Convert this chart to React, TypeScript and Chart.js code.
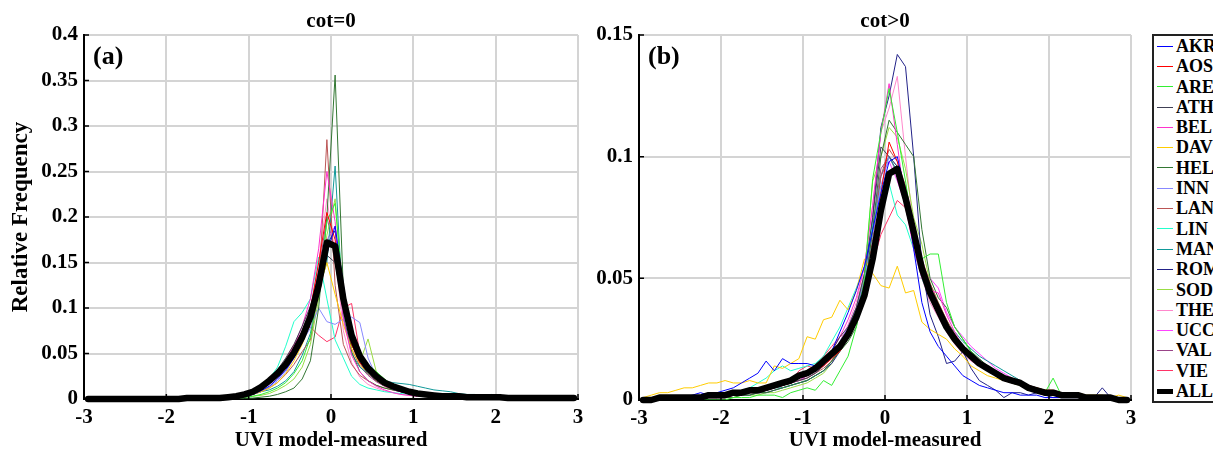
import React, { useEffect, useRef } from 'react';
import { Chart, registerables } from 'chart.js';

Chart.register(...registerables);

const FONT = '"Liberation Serif", "Times New Roman", serif';

// Bin centres of UVI (model - measured)
const xCenters = [
  -2.95, -2.85, -2.75, -2.65, -2.55, -2.45, -2.35, -2.25, -2.15, -2.05,
  -1.95, -1.85, -1.75, -1.65, -1.55, -1.45, -1.35, -1.25, -1.15, -1.05,
  -0.95, -0.85, -0.75, -0.65, -0.55, -0.45, -0.35, -0.25, -0.15, -0.05,
  0.05, 0.15, 0.25, 0.35, 0.45, 0.55, 0.65, 0.75, 0.85, 0.95,
  1.05, 1.15, 1.25, 1.35, 1.45, 1.55, 1.65, 1.75, 1.85, 1.95,
  2.05, 2.15, 2.25, 2.35, 2.45, 2.55, 2.65, 2.75, 2.85, 2.95,
];

const xTicks = [-3, -2, -1, 0, 1, 2, 3];
const yTicksA = [0, 0.05, 0.1, 0.15, 0.2, 0.25, 0.3, 0.35, 0.4];
const yTicksB = [0, 0.05, 0.1, 0.15];

const stations = ['AKR', 'AOS', 'ARE', 'ATH', 'BEL', 'DAV', 'HEL', 'INN', 'LAN', 'LIN', 'MAN', 'ROM', 'SOD', 'THE', 'UCC', 'VAL', 'VIE'];

// ---------------- Panel (a): cot = 0 ----------------
const aALL = [
  0, 0, 0, 0, 0, 0, 0, 0, 0, 0,
  0, 0, .001, .001, .001, .001, .001, .002, .003, .005,
  .008, .013, .020, .028, .038, .051, .068, .090, .125, .172,
  .168, .110, .070, .047, .034, .025, .018, .014, .011, .008,
  .006, .005, .004, .003, .003, .003, .002, .002, .002, .002,
  .002, .001, .001, .001, .001, .001, .001, .001, .001, .001,
];
const aAKR = [
  0, 0, 0, 0, 0, 0, 0, 0, 0, 0,
  0, 0, 0, 0, 0, 0, .001, .001, .002, .003,
  .005, .009, .014, .022, .032, .045, .062, .085, .125, .160,
  .190, .125, .070, .042, .030, .022, .016, .011, .008, .006,
  .005, .004, .004, .003, .002, .002, .003, .002, .002, .001,
  .002, .001, .001, .002, .001, .001, .001, .002, .001, .001,
];
const aAOS = [
  0, 0, 0, 0, 0, 0, 0, 0, 0, 0,
  0, 0, 0, 0, .001, 0, .001, .002, .003, .004,
  .007, .012, .019, .028, .040, .055, .072, .098, .150, .205,
  .175, .100, .060, .040, .030, .022, .016, .011, .008, .006,
  .005, .004, .003, .003, .002, .002, .002, .002, .001, .002,
  .001, .001, .001, .001, .001, .002, .001, .001, .001, .001,
];
const aARE = [
  0, 0, 0, 0, 0, 0, 0, 0, 0, 0,
  0, 0, 0, 0, 0, 0, 0, .001, .001, .002,
  .003, .005, .008, .012, .018, .028, .042, .068, .120, .195,
  .215, .115, .068, .048, .038, .030, .022, .015, .011, .008,
  .006, .005, .004, .003, .003, .002, .002, .002, .003, .002,
  .002, .001, .002, .001, .001, .001, .002, .001, .001, .001,
];
const aATH = [
  0, 0, 0, 0, 0, 0, 0, 0, 0, 0,
  0, 0, 0, .001, .001, .001, .001, .002, .003, .005,
  .008, .014, .022, .032, .045, .060, .080, .102, .130, .158,
  .150, .098, .060, .040, .028, .020, .015, .012, .009, .007,
  .005, .004, .003, .003, .002, .002, .002, .001, .002, .001,
  .001, .001, .001, .001, .001, .001, .001, .001, .001, .001,
];
const aBEL = [
  0, 0, 0, 0, 0, 0, 0, 0, 0, 0,
  0, 0, 0, 0, .001, 0, .001, .002, .003, .005,
  .008, .012, .020, .030, .042, .058, .080, .110, .165, .250,
  .195, .088, .048, .030, .020, .014, .010, .007, .005, .004,
  .003, .003, .002, .002, .002, .001, .001, .001, .002, .001,
  .001, .001, .001, .001, .001, .001, .001, .001, .001, .001,
];
const aDAV = [
  0, 0, 0, 0, 0, 0, 0, 0, 0, 0,
  0, 0, 0, 0, 0, 0, .001, .001, .002, .003,
  .005, .008, .012, .018, .028, .042, .060, .085, .120, .150,
  .115, .082, .055, .038, .028, .020, .015, .012, .009, .007,
  .006, .005, .004, .003, .003, .003, .002, .003, .002, .002,
  .002, .002, .001, .002, .001, .002, .001, .001, .002, .001,
];
const aHEL = [
  0, 0, 0, 0, 0, 0, 0, 0, 0, 0,
  0, 0, 0, 0, 0, 0, 0, 0, 0, .001,
  .001, .002, .003, .005, .008, .012, .022, .042, .100, .200,
  .356, .120, .052, .030, .020, .015, .012, .010, .008, .006,
  .005, .004, .003, .003, .002, .002, .002, .001, .001, .001,
  .001, .001, .001, .001, .001, .001, .001, .001, .001, .001,
];
const aINN = [
  0, 0, 0, 0, 0, 0, 0, 0, 0, 0,
  0, 0, 0, 0, 0, 0, .001, .001, .002, .003,
  .005, .008, .013, .020, .030, .045, .063, .078, .100, .085,
  .082, .088, .090, .084, .045, .025, .016, .011, .008, .006,
  .005, .004, .003, .003, .002, .002, .002, .001, .002, .001,
  .001, .001, .001, .001, .001, .001, .001, .001, .001, .001,
];
const aLAN = [
  0, 0, 0, 0, 0, 0, 0, 0, 0, 0,
  0, 0, 0, 0, 0, 0, .001, .001, .002, .003,
  .005, .008, .012, .018, .027, .038, .052, .065, .120, .285,
  .125, .060, .038, .026, .020, .015, .012, .010, .008, .006,
  .005, .004, .003, .003, .002, .002, .002, .002, .001, .001,
  .001, .001, .001, .001, .001, .001, .001, .001, .001, .001,
];
const aLIN = [
  0, 0, 0, 0, 0, 0, 0, 0, 0, 0,
  0, 0, 0, 0, .001, .001, .002, .003, .005, .007,
  .010, .014, .022, .035, .058, .085, .095, .110, .156, .110,
  .065, .045, .025, .016, .012, .010, .008, .007, .006, .005,
  .004, .004, .003, .003, .002, .002, .002, .002, .001, .001,
  .001, .001, .001, .001, .001, .001, .001, .001, .001, .001,
];
const aMAN = [
  0, 0, 0, 0, 0, 0, 0, 0, 0, 0,
  0, 0, 0, 0, 0, 0, .001, .001, .002, .003,
  .005, .008, .010, .014, .020, .030, .048, .072, .120, .150,
  .256, .090, .050, .035, .028, .024, .020, .018, .017, .016,
  .014, .012, .010, .009, .008, .006, .005, .005, .004, .005,
  .004, .003, .003, .003, .002, .003, .002, .002, .002, .002,
];
const aROM = [
  0, 0, 0, 0, 0, 0, 0, 0, 0, 0,
  0, 0, 0, 0, 0, 0, .001, .002, .003, .005,
  .008, .013, .020, .028, .038, .050, .066, .088, .125, .170,
  .185, .105, .065, .045, .032, .024, .018, .014, .011, .008,
  .006, .005, .004, .003, .003, .002, .002, .002, .002, .001,
  .001, .001, .001, .001, .001, .001, .001, .001, .001, .001,
];
const aSOD = [
  0, 0, 0, 0, 0, 0, 0, 0, 0, 0,
  0, 0, 0, 0, 0, 0, 0, .001, .001, .002,
  .003, .004, .006, .010, .015, .022, .035, .060, .110, .180,
  .220, .105, .060, .040, .066, .030, .020, .014, .010, .008,
  .006, .005, .004, .003, .003, .002, .002, .002, .002, .001,
  .001, .002, .001, .001, .001, .001, .001, .001, .001, .001,
];
const aTHE = [
  0, 0, 0, 0, 0, 0, 0, 0, 0, 0,
  0, 0, 0, 0, 0, 0, .001, .002, .003, .004,
  .007, .011, .017, .026, .038, .052, .072, .100, .150, .220,
  .160, .075, .040, .024, .016, .012, .009, .007, .005, .004,
  .003, .003, .002, .002, .002, .001, .001, .001, .001, .001,
  .001, .001, .001, .001, .001, .001, .001, .001, .001, .001,
];
const aUCC = [
  0, 0, 0, 0, 0, 0, 0, 0, 0, 0,
  0, 0, 0, 0, 0, 0, .001, .001, .002, .004,
  .006, .010, .016, .024, .034, .047, .064, .088, .130, .175,
  .190, .110, .062, .040, .028, .020, .015, .012, .009, .007,
  .005, .004, .004, .003, .002, .002, .002, .002, .001, .002,
  .001, .001, .001, .001, .001, .004, .001, .001, .001, .001,
];
const aVAL = [
  0, 0, 0, 0, 0, 0, 0, 0, 0, 0,
  0, 0, 0, 0, .001, .001, .001, .002, .003, .005,
  .008, .013, .020, .030, .042, .056, .075, .100, .140, .200,
  .160, .090, .055, .036, .026, .019, .014, .011, .008, .006,
  .005, .004, .003, .003, .002, .002, .002, .002, .001, .001,
  .001, .001, .001, .001, .001, .001, .001, .001, .001, .001,
];
const aVIE = [
  0, 0, 0, 0, 0, 0, 0, 0, 0, 0,
  0, 0, 0, 0, .001, .001, .001, .002, .003, .005,
  .008, .012, .018, .030, .043, .060, .074, .079, .070, .063,
  .068, .100, .105, .050, .030, .020, .014, .010, .008, .006,
  .005, .004, .003, .003, .002, .002, .002, .001, .001, .001,
  .001, .001, .001, .001, .001, .001, .001, .001, .001, .001,
];

// ---------------- Panel (b): cot > 0 ----------------
const bALL = [
  .000, .000, .001, .001, .001, .001, .001, .001, .002, .002,
  .002, .003, .003, .004, .004, .005, .006, .007, .008, .010,
  .011, .013, .016, .019, .022, .027, .034, .043, .058, .078,
  .093, .095, .083, .069, .054, .044, .037, .030, .025, .021,
  .018, .015, .013, .011, .009, .008, .007, .005, .004, .003,
  .003, .002, .002, .002, .001, .001, .001, .001, .000, .000,
];
const bAKR = [
  0, 0, 0, .001, .001, .001, .002, .003, .002, .003,
  .004, .005, .007, .009, .011, .016, .012, .017, .015, .015,
  .015, .014, .015, .020, .028, .036, .045, .055, .070, .085,
  .098, .100, .085, .062, .040, .028, .022, .018, .014, .010,
  .008, .006, .005, .004, .003, .003, .002, .002, .002, .001,
  .001, .001, .001, .001, .001, .000, .001, .000, .000, .000,
];
const bAOS = [
  0, 0, 0, 0, 0, .001, .001, .001, .001, .001,
  .002, .002, .003, .003, .004, .005, .005, .006, .007, .009,
  .010, .012, .014, .017, .020, .026, .034, .045, .060, .085,
  .106, .098, .085, .070, .055, .044, .036, .030, .026, .022,
  .019, .016, .014, .012, .010, .008, .007, .006, .005, .004,
  .004, .003, .002, .002, .001, .001, .001, .001, .000, .000,
];
const bARE = [
  0, 0, 0, 0, 0, 0, 0, 0, 0, 0,
  .000, .001, .001, .001, .002, .002, .002, .001, .003, .004,
  .005, .004, .008, .006, .012, .018, .030, .050, .091, .110,
  .128, .110, .090, .068, .058, .060, .060, .040, .030, .025,
  .020, .016, .013, .011, .009, .007, .006, .005, .004, .003,
  .009, .002, .002, .001, .001, .001, .001, .000, .000, .000,
];
const bATH = [
  0, 0, 0, 0, 0, .001, .001, .001, .001, .001,
  .002, .002, .003, .003, .004, .004, .005, .006, .007, .008,
  .009, .011, .014, .020, .026, .030, .038, .052, .075, .104,
  .100, .096, .085, .068, .052, .042, .035, .029, .024, .020,
  .017, .014, .012, .010, .009, .008, .006, .005, .004, .003,
  .003, .002, .002, .002, .001, .001, .001, .001, .000, .000,
];
const bBEL = [
  0, 0, 0, 0, 0, 0, .001, .001, .001, .001,
  .001, .002, .002, .003, .004, .004, .005, .006, .008, .009,
  .011, .013, .016, .020, .026, .033, .042, .055, .080, .110,
  .130, .105, .080, .062, .050, .045, .044, .035, .028, .022,
  .018, .015, .013, .011, .009, .008, .006, .005, .004, .003,
  .003, .002, .002, .001, .001, .001, .001, .001, .000, .000,
];
const bDAV = [
  .001, .002, .003, .003, .004, .005, .005, .006, .007, .007,
  .008, .007, .007, .008, .007, .007, .014, .013, .015, .017,
  .026, .025, .033, .034, .041, .037, .045, .058, .052, .047,
  .046, .055, .044, .045, .032, .029, .027, .025, .021, .018,
  .014, .012, .010, .009, .008, .007, .006, .005, .005, .004,
  .004, .003, .003, .003, .002, .002, .002, .001, .002, .001,
];
const bHEL = [
  0, 0, 0, 0, 0, 0, 0, .001, .001, .001,
  .001, .001, .002, .002, .003, .003, .004, .005, .006, .007,
  .008, .010, .012, .016, .020, .024, .030, .045, .070, .100,
  .115, .110, .105, .100, .070, .050, .042, .038, .030, .025,
  .020, .017, .014, .012, .010, .008, .006, .005, .004, .003,
  .003, .002, .002, .001, .001, .001, .001, .000, .000, .000,
];
const bINN = [
  0, 0, 0, 0, 0, .001, .001, .001, .001, .001,
  .002, .002, .003, .003, .004, .005, .005, .006, .008, .009,
  .010, .012, .015, .019, .024, .030, .038, .050, .068, .088,
  .100, .096, .084, .068, .052, .042, .036, .030, .025, .021,
  .018, .015, .012, .010, .008, .007, .006, .005, .004, .003,
  .003, .002, .002, .002, .001, .001, .001, .001, .000, .000,
];
const bLAN = [
  0, 0, 0, 0, 0, .001, .001, .001, .001, .001,
  .001, .002, .002, .003, .003, .004, .005, .006, .007, .008,
  .009, .011, .013, .016, .021, .026, .034, .046, .066, .092,
  .103, .098, .088, .072, .058, .048, .040, .033, .027, .022,
  .018, .016, .014, .012, .010, .008, .007, .005, .004, .003,
  .003, .003, .002, .002, .001, .001, .001, .000, .000, .000,
];
const bLIN = [
  0, 0, 0, 0, .001, .001, .001, .001, .002, .002,
  .003, .003, .004, .005, .007, .009, .012, .014, .012, .013,
  .014, .015, .018, .024, .030, .038, .046, .055, .072, .088,
  .089, .076, .072, .062, .050, .042, .036, .030, .025, .021,
  .018, .015, .013, .011, .009, .008, .006, .005, .004, .003,
  .003, .002, .002, .002, .001, .001, .001, .001, .000, .000,
];
const bMAN = [
  0, 0, 0, 0, 0, .001, .001, .001, .001, .001,
  .002, .002, .002, .003, .003, .004, .005, .005, .006, .007,
  .008, .010, .012, .016, .022, .028, .036, .048, .070, .092,
  .100, .094, .082, .066, .052, .044, .038, .032, .028, .024,
  .021, .018, .016, .014, .012, .010, .008, .006, .005, .004,
  .003, .003, .002, .002, .002, .001, .001, .001, .000, .000,
];
const bROM = [
  0, 0, 0, 0, 0, 0, .001, .001, .001, .001,
  .001, .002, .002, .002, .003, .003, .004, .005, .006, .007,
  .008, .010, .012, .015, .020, .026, .035, .048, .075, .112,
  .125, .142, .137, .100, .055, .035, .026, .015, .016, .020,
  .013, .008, .006, .004, .001, .003, .003, .002, .003, .002,
  .001, .001, .001, .001, .001, .001, .005, .001, .000, .000,
];
const bSOD = [
  0, 0, 0, 0, 0, 0, 0, 0, .001, .001,
  .001, .001, .002, .002, .002, .003, .003, .004, .005, .006,
  .007, .009, .011, .015, .021, .028, .038, .052, .090, .100,
  .112, .108, .095, .075, .064, .048, .040, .033, .027, .022,
  .019, .016, .013, .011, .009, .007, .006, .005, .004, .003,
  .003, .002, .002, .002, .001, .001, .001, .001, .000, .000,
];
const bTHE = [
  0, 0, 0, 0, 0, .001, .001, .001, .001, .001,
  .001, .002, .002, .003, .003, .004, .005, .006, .007, .008,
  .009, .011, .014, .018, .024, .031, .040, .055, .080, .110,
  .120, .133, .100, .070, .050, .040, .034, .028, .023, .019,
  .016, .014, .012, .010, .008, .007, .006, .005, .004, .003,
  .003, .002, .002, .001, .001, .001, .001, .000, .000, .000,
];
const bUCC = [
  0, 0, 0, 0, 0, .001, .001, .001, .001, .001,
  .001, .002, .002, .003, .003, .004, .005, .006, .007, .008,
  .010, .012, .014, .018, .023, .030, .038, .052, .072, .092,
  .098, .090, .080, .066, .055, .050, .046, .036, .030, .026,
  .022, .019, .016, .013, .011, .009, .007, .006, .004, .003,
  .003, .002, .002, .002, .001, .001, .001, .001, .000, .000,
];
const bVAL = [
  0, 0, 0, 0, 0, .001, .001, .001, .001, .001,
  .002, .002, .002, .003, .004, .004, .005, .006, .007, .008,
  .010, .012, .014, .018, .023, .029, .037, .050, .070, .095,
  .100, .093, .082, .066, .053, .044, .037, .031, .026, .022,
  .019, .016, .013, .011, .009, .008, .006, .005, .004, .003,
  .003, .003, .002, .002, .001, .001, .001, .000, .000, .000,
];
const bVIE = [
  0, 0, 0, 0, 0, .001, .001, .001, .001, .001,
  .001, .002, .002, .003, .003, .004, .005, .006, .007, .012,
  .014, .013, .018, .022, .026, .028, .036, .046, .056, .068,
  .075, .082, .079, .065, .052, .044, .038, .032, .027, .022,
  .019, .016, .013, .011, .009, .007, .006, .005, .004, .003,
  .003, .002, .002, .001, .001, .001, .001, .000, .000, .000,
];

const seriesA = [aAKR, aAOS, aARE, aATH, aBEL, aDAV, aHEL, aINN, aLAN, aLIN, aMAN, aROM, aSOD, aTHE, aUCC, aVAL, aVIE];
const seriesB = [bAKR, bAOS, bARE, bATH, bBEL, bDAV, bHEL, bINN, bLAN, bLIN, bMAN, bROM, bSOD, bTHE, bUCC, bVAL, bVIE];

// styles
const stationColors = [
  '#0000ff', '#ff0000', '#33ee33', '#404055', '#ff33cc', '#ffcc00', '#337733', '#8888ff', '#bb5555',
  '#22ffcc', '#119999', '#222288', '#99dd44', '#ff88cc', '#ff44ff', '#994488', '#ff3366',
];

const toPoints = (ys: number[]) => ys.map((y, i) => ({ x: xCenters[i], y }));

const panelPlugin = {
  id: 'panelDecor',
  afterDraw(chart: any, _args: any, opts: any) {
    const { ctx, chartArea } = chart;
    const xs = chart.scales.x;
    const ys = chart.scales.y;
    ctx.save();
    // inward tick marks
    ctx.strokeStyle = '#000';
    ctx.lineWidth = 1.5;
    ctx.beginPath();
    xs.ticks.forEach((t: any) => {
      const px = xs.getPixelForValue(t.value);
      ctx.moveTo(px, chartArea.bottom);
      ctx.lineTo(px, chartArea.bottom - 5);
    });
    ys.ticks.forEach((t: any) => {
      const py = ys.getPixelForValue(t.value);
      ctx.moveTo(chartArea.left, py);
      ctx.lineTo(chartArea.left + 5, py);
    });
    ctx.stroke();
    // title
    ctx.fillStyle = '#000';
    ctx.font = `bold 21px ${FONT}`;
    ctx.textAlign = 'center';
    ctx.textBaseline = 'alphabetic';
    ctx.fillText(opts.title, (chartArea.left + chartArea.right) / 2, 27);
    // panel tag
    ctx.font = `bold 26px ${FONT}`;
    ctx.textAlign = 'left';
    ctx.textBaseline = 'middle';
    ctx.fillText(opts.tag, chartArea.left + 9, 57);
    ctx.restore();
  },
};

type PanelProps = {
  left: number;
  allData: number[];
  series: number[][];
  ymax: number;
  yTicks: number[];
  title: string;
  tag: string;
  yTitle: boolean;
  padRight: number;
  xAxisHeight: number;
};

function Panel(p: PanelProps) {
  const ref = useRef<HTMLCanvasElement>(null);
  useEffect(() => {
    const tickFont = { family: FONT, size: 21, weight: 'bold' as const };
    const datasets: any[] = [
      {
        label: 'ALL',
        data: toPoints(p.allData),
        borderColor: '#000',
        backgroundColor: '#000',
        borderWidth: 6.5,
        pointRadius: 0,
        borderJoinStyle: 'round',
        borderCapStyle: 'round',
        order: -1,
        clip: 6,
      },
      ...p.series.map((s, i) => ({
        label: stations[i],
        data: toPoints(s),
        borderColor: stationColors[i],
        backgroundColor: stationColors[i],
        borderWidth: 1,
        pointRadius: 0,
        order: 1,
      })),
    ];
    const chart = new Chart(ref.current as HTMLCanvasElement, {
      type: 'line',
      data: { datasets },
      plugins: [panelPlugin],
      options: {
        animation: false,
        responsive: false,
        layout: { padding: { left: 0, right: p.padRight, top: 35, bottom: 0 } },
        plugins: {
          legend: { display: false },
          tooltip: { enabled: false },
          panelDecor: { title: p.title, tag: p.tag },
        } as any,
        scales: {
          x: {
            type: 'linear',
            min: -3,
            max: 3,
            afterBuildTicks: (s: any) => { s.ticks = xTicks.map((v) => ({ value: v })); },
            ticks: {
              color: '#000',
              font: tickFont,
              padding: 6,
              maxRotation: 0,
              autoSkip: false,
              callback: (v: any) => String(Math.round(Number(v))),
            },
            grid: { color: '#d4d4d4', lineWidth: 2, drawTicks: false },
            border: { color: '#000', width: 2 },
            title: {
              display: true,
              text: 'UVI model-measured',
              color: '#000',
              font: { family: FONT, size: 21, weight: 'bold', lineHeight: 1 },
              padding: { top: 0, bottom: -1 },
            },
            afterFit: (s: any) => { s.height = p.xAxisHeight; },
          },
          y: {
            type: 'linear',
            min: 0,
            max: p.ymax,
            afterBuildTicks: (s: any) => { s.ticks = p.yTicks.map((v) => ({ value: v })); },
            ticks: {
              color: '#000',
              font: tickFont,
              padding: 6,
              autoSkip: false,
              callback: (v: any) => String(Math.round(Number(v) * 100) / 100),
            },
            grid: { color: '#d4d4d4', lineWidth: 2, drawTicks: false },
            border: { color: '#000', width: 2 },
            title: {
              display: p.yTitle,
              text: 'Relative Frequency',
              color: '#000',
              font: { family: FONT, size: 23, weight: 'bold', lineHeight: 1 },
              padding: { top: 10, bottom: 0 },
            },
            afterFit: (s: any) => { s.width = 84; },
          },
        },
      } as any,
    });
    return () => chart.destroy();
  }, []);
  return (
    <div style={{ position: 'absolute', left: p.left, top: 0, width: 600, height: 450 }}>
      <canvas ref={ref} width={600} height={450} style={{ display: 'block' }} />
    </div>
  );
}

function Legend() {
  const rows = [...stations.map((s, i) => ({ name: s, color: stationColors[i], w: 1 })), { name: 'ALL', color: '#000', w: 5 }];
  return (
    <div
      style={{
        position: 'absolute',
        left: 1152,
        top: 34,
        width: 100,
        border: '2px solid #222',
        background: '#fff',
        paddingTop: 0,
        paddingBottom: 0,
      }}
    >
      {rows.map((r) => (
        <div key={r.name} style={{ display: 'flex', alignItems: 'center', height: 20.3 }}>
          <div style={{ marginLeft: 3, width: 16, height: r.w, background: r.color }} />
          <span
            style={{
              marginLeft: 3,
              fontFamily: FONT,
              fontWeight: 'bold',
              fontSize: 18,
              lineHeight: '20.3px',
              color: '#000',
            }}
          >
            {r.name}
          </span>
        </div>
      ))}
    </div>
  );
}

export default function App() {
  return (
    <div style={{ position: 'absolute', left: 0, top: 0, width: 1213, height: 450, overflow: 'hidden', background: '#fff' }}>
      <Panel left={0} allData={aALL} series={seriesA} ymax={0.4} yTicks={yTicksA} title="cot=0" tag="(a)" yTitle={true} padRight={22} xAxisHeight={51} />
      <Panel left={555} allData={bALL} series={seriesB} ymax={0.15} yTicks={yTicksB} title="cot>0" tag="(b)" yTitle={false} padRight={24} xAxisHeight={50} />
      <Legend />
    </div>
  );
}
